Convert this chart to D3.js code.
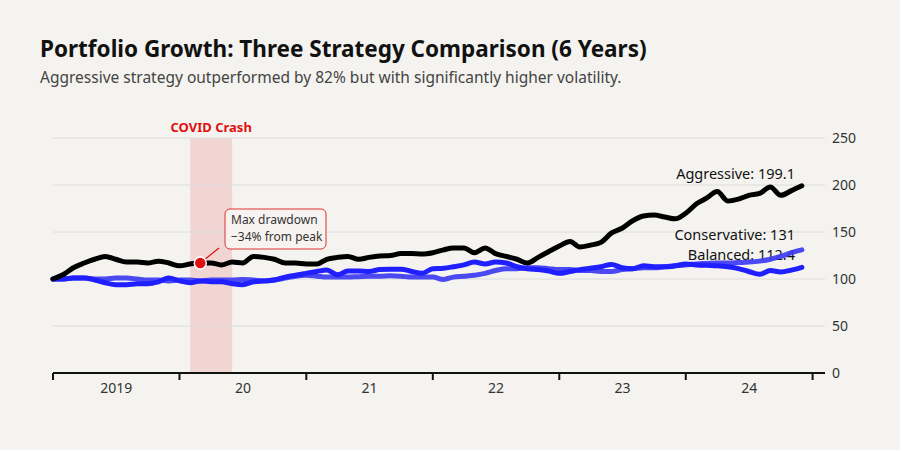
<!DOCTYPE html>
<html>
<head>
<meta charset="utf-8">
<script src="https://cdn.jsdelivr.net/npm/d3@7"></script>
<style>
  body { margin: 0; background: #f4f3ef; }
  svg { display: block; font-family: "Segoe UI", "Noto Sans", sans-serif; }
</style>
</head>
<body>
<svg id="chart" width="900" height="450"></svg>
<script>
// monthly values, Jan 2019 .. Dec 2024
var aggressive = [100, 105, 112, 117, 121, 124, 121, 118, 118, 117, 119, 117,
  114, 116, 117, 117, 115, 118, 117, 124, 123, 121, 117, 117,
  116, 116, 121, 123, 124, 121, 123, 124.5, 125, 127, 127, 126.5,
  128, 131, 133, 133, 128, 133, 127, 124, 121, 117, 123, 129,
  135, 140, 134, 136, 139, 149, 154, 162, 167, 168, 166, 164,
  170, 180, 186, 193, 183, 185, 189, 191, 198, 189, 194, 199.1];
var balanced = [100, 100, 101, 101, 99, 96, 94, 94, 95, 95, 97, 101,
  98, 96, 98, 97, 97, 95, 94, 97, 98, 99, 102, 104,
  106, 108, 109.6, 104.5, 108.5, 108.5, 108, 110, 110.5, 110.5, 108, 106,
  111, 111.5, 113, 115, 118, 116, 118, 117, 113, 111, 110, 108.5,
  106, 108, 110, 111.5, 113, 115.5, 112, 111, 114, 113, 113, 114,
  116, 115, 114.5, 114, 113, 111, 108, 105, 109, 107.5, 109.5, 112.4];
var conservative = [100, 100, 101, 101, 100, 100, 101, 101, 100, 99, 99, 98,
  99, 99, 98, 99, 99, 99, 99.5, 99, 98, 99, 101, 103,
  104, 103, 102, 102, 102, 102.5, 103, 103, 103.5, 103, 102, 102,
  102, 99.5, 102, 103, 104, 106, 109, 111, 111, 112, 112, 111,
  110, 110, 109, 109, 108, 108, 110, 111, 112, 112, 113, 114,
  115, 116, 116.5, 117, 117, 117.5, 118, 119, 121, 124, 128, 131];
var yearLabels = ["2019", "20", "21", "22", "23", "24"];
var yTicks = [0, 50, 100, 150, 200, 250];
var crashStart = new Date(2020, 1, 1), crashEnd = new Date(2020, 5, 1);
var troughMonth = 14;

var svg = d3.select("#chart");
var months = aggressive.map((d, i) => new Date(2019, i, 1));

var x = d3.scaleTime()
  .domain([new Date(2019, 0, 1), new Date(2025, 0, 1)])
  .range([53, 812.6]);
var y = d3.scaleLinear().domain([0, 250]).range([373, 138]);
var right = 825;

// title
svg.append("text").attr("x", 40).attr("y", 57)
  .attr("font-size", 22.5).attr("font-weight", "bold").attr("fill", "#111")
  .text("Portfolio Growth: Three Strategy Comparison (6 Years)");
svg.append("text").attr("x", 40).attr("y", 83)
  .attr("font-size", 15.5).attr("fill", "#444")
  .text("Aggressive strategy outperformed by 82% but with significantly higher volatility.");

// covid band
svg.append("rect")
  .attr("x", x(crashStart)).attr("y", y(250))
  .attr("width", x(crashEnd) - x(crashStart)).attr("height", y(0) - y(250))
  .attr("fill", "#f0d5d2");
svg.append("text")
  .attr("x", (x(crashStart) + x(crashEnd)) / 2).attr("y", 132)
  .attr("text-anchor", "middle").attr("font-size", 13).attr("font-weight", "bold")
  .attr("fill", "#e01010").text("COVID Crash");

// grid
svg.append("g").selectAll("line")
  .data(yTicks.slice(1))
  .enter().append("line")
  .attr("x1", 53).attr("x2", right)
  .attr("y1", d => y(d)).attr("y2", d => y(d))
  .attr("stroke", "#dcdcdc").attr("stroke-width", 1);

svg.append("g").selectAll("text")
  .data(yTicks)
  .enter().append("text")
  .attr("x", 832).attr("y", d => y(d)).attr("dy", "0.35em")
  .attr("font-size", 14).attr("fill", "#333")
  .text(d => d);

// x axis
var xAxis = svg.append("g").attr("transform", "translate(0," + y(0) + ")");
xAxis.append("line").attr("x1", 53).attr("x2", right)
  .attr("stroke", "#111").attr("stroke-width", 2);
var yearStarts = d3.range(2019, 2026).map(yr => new Date(yr, 0, 1));
xAxis.selectAll(".tick").data(yearStarts).enter().append("line")
  .attr("x1", d => x(d)).attr("x2", d => x(d))
  .attr("y1", 0).attr("y2", 7)
  .attr("stroke", "#111").attr("stroke-width", 2);
xAxis.selectAll(".lbl").data(yearLabels).enter().append("text")
  .attr("x", (d, i) => (x(yearStarts[i]) + x(yearStarts[i + 1])) / 2)
  .attr("y", 20).attr("text-anchor", "middle")
  .attr("font-size", 14).attr("fill", "#333")
  .text(d => d);

// end labels
var last = months.length - 1;
var labels = [
  {text: "Aggressive: " + aggressive[last], y: 179},
  {text: "Conservative: " + conservative[last], y: 240},
  {text: "Balanced: " + balanced[last], y: 260}
];
svg.append("g").selectAll("text").data(labels).enter().append("text")
  .attr("x", 795).attr("y", d => d.y).attr("text-anchor", "end")
  .attr("font-size", 14.5).attr("fill", "#111")
  .text(d => d.text);

// lines
var line = d3.line()
  .x((d, i) => x(months[i]))
  .y(d => y(d))
  .curve(d3.curveMonotoneX);

var series = [
  {values: conservative, color: "#3c3cf2", opacity: 0.92},
  {values: balanced, color: "#1f1fff", opacity: 1},
  {values: aggressive, color: "#000", opacity: 1}
];
svg.append("g").selectAll("path").data(series).enter().append("path")
  .attr("d", d => line(d.values))
  .attr("fill", "none")
  .attr("stroke", d => d.color)
  .attr("stroke-opacity", d => d.opacity)
  .attr("stroke-width", 5)
  .attr("stroke-linejoin", "round")
  .attr("stroke-linecap", "round");

// drawdown annotation
var px = x(months[troughMonth]), py = y(aggressive[troughMonth]);
svg.append("line")
  .attr("x1", px).attr("y1", py).attr("x2", 219).attr("y2", 248)
  .attr("stroke", "#e01010").attr("stroke-width", 1.2);
svg.append("rect")
  .attr("x", 225).attr("y", 209).attr("width", 101).attr("height", 40)
  .attr("rx", 5)
  .attr("fill", "#f7f3f1").attr("stroke", "#e03030").attr("stroke-width", 1);
svg.append("text").attr("x", 231).attr("y", 224)
  .attr("font-size", 12).attr("fill", "#333").text("Max drawdown");
svg.append("text").attr("x", 231).attr("y", 241)
  .attr("font-size", 12).attr("fill", "#333").text("\u221234% from peak");
svg.append("circle")
  .attr("cx", px).attr("cy", py).attr("r", 6)
  .attr("fill", "#e01010").attr("stroke", "#fff").attr("stroke-width", 1.5);
</script>
</body>
</html>
